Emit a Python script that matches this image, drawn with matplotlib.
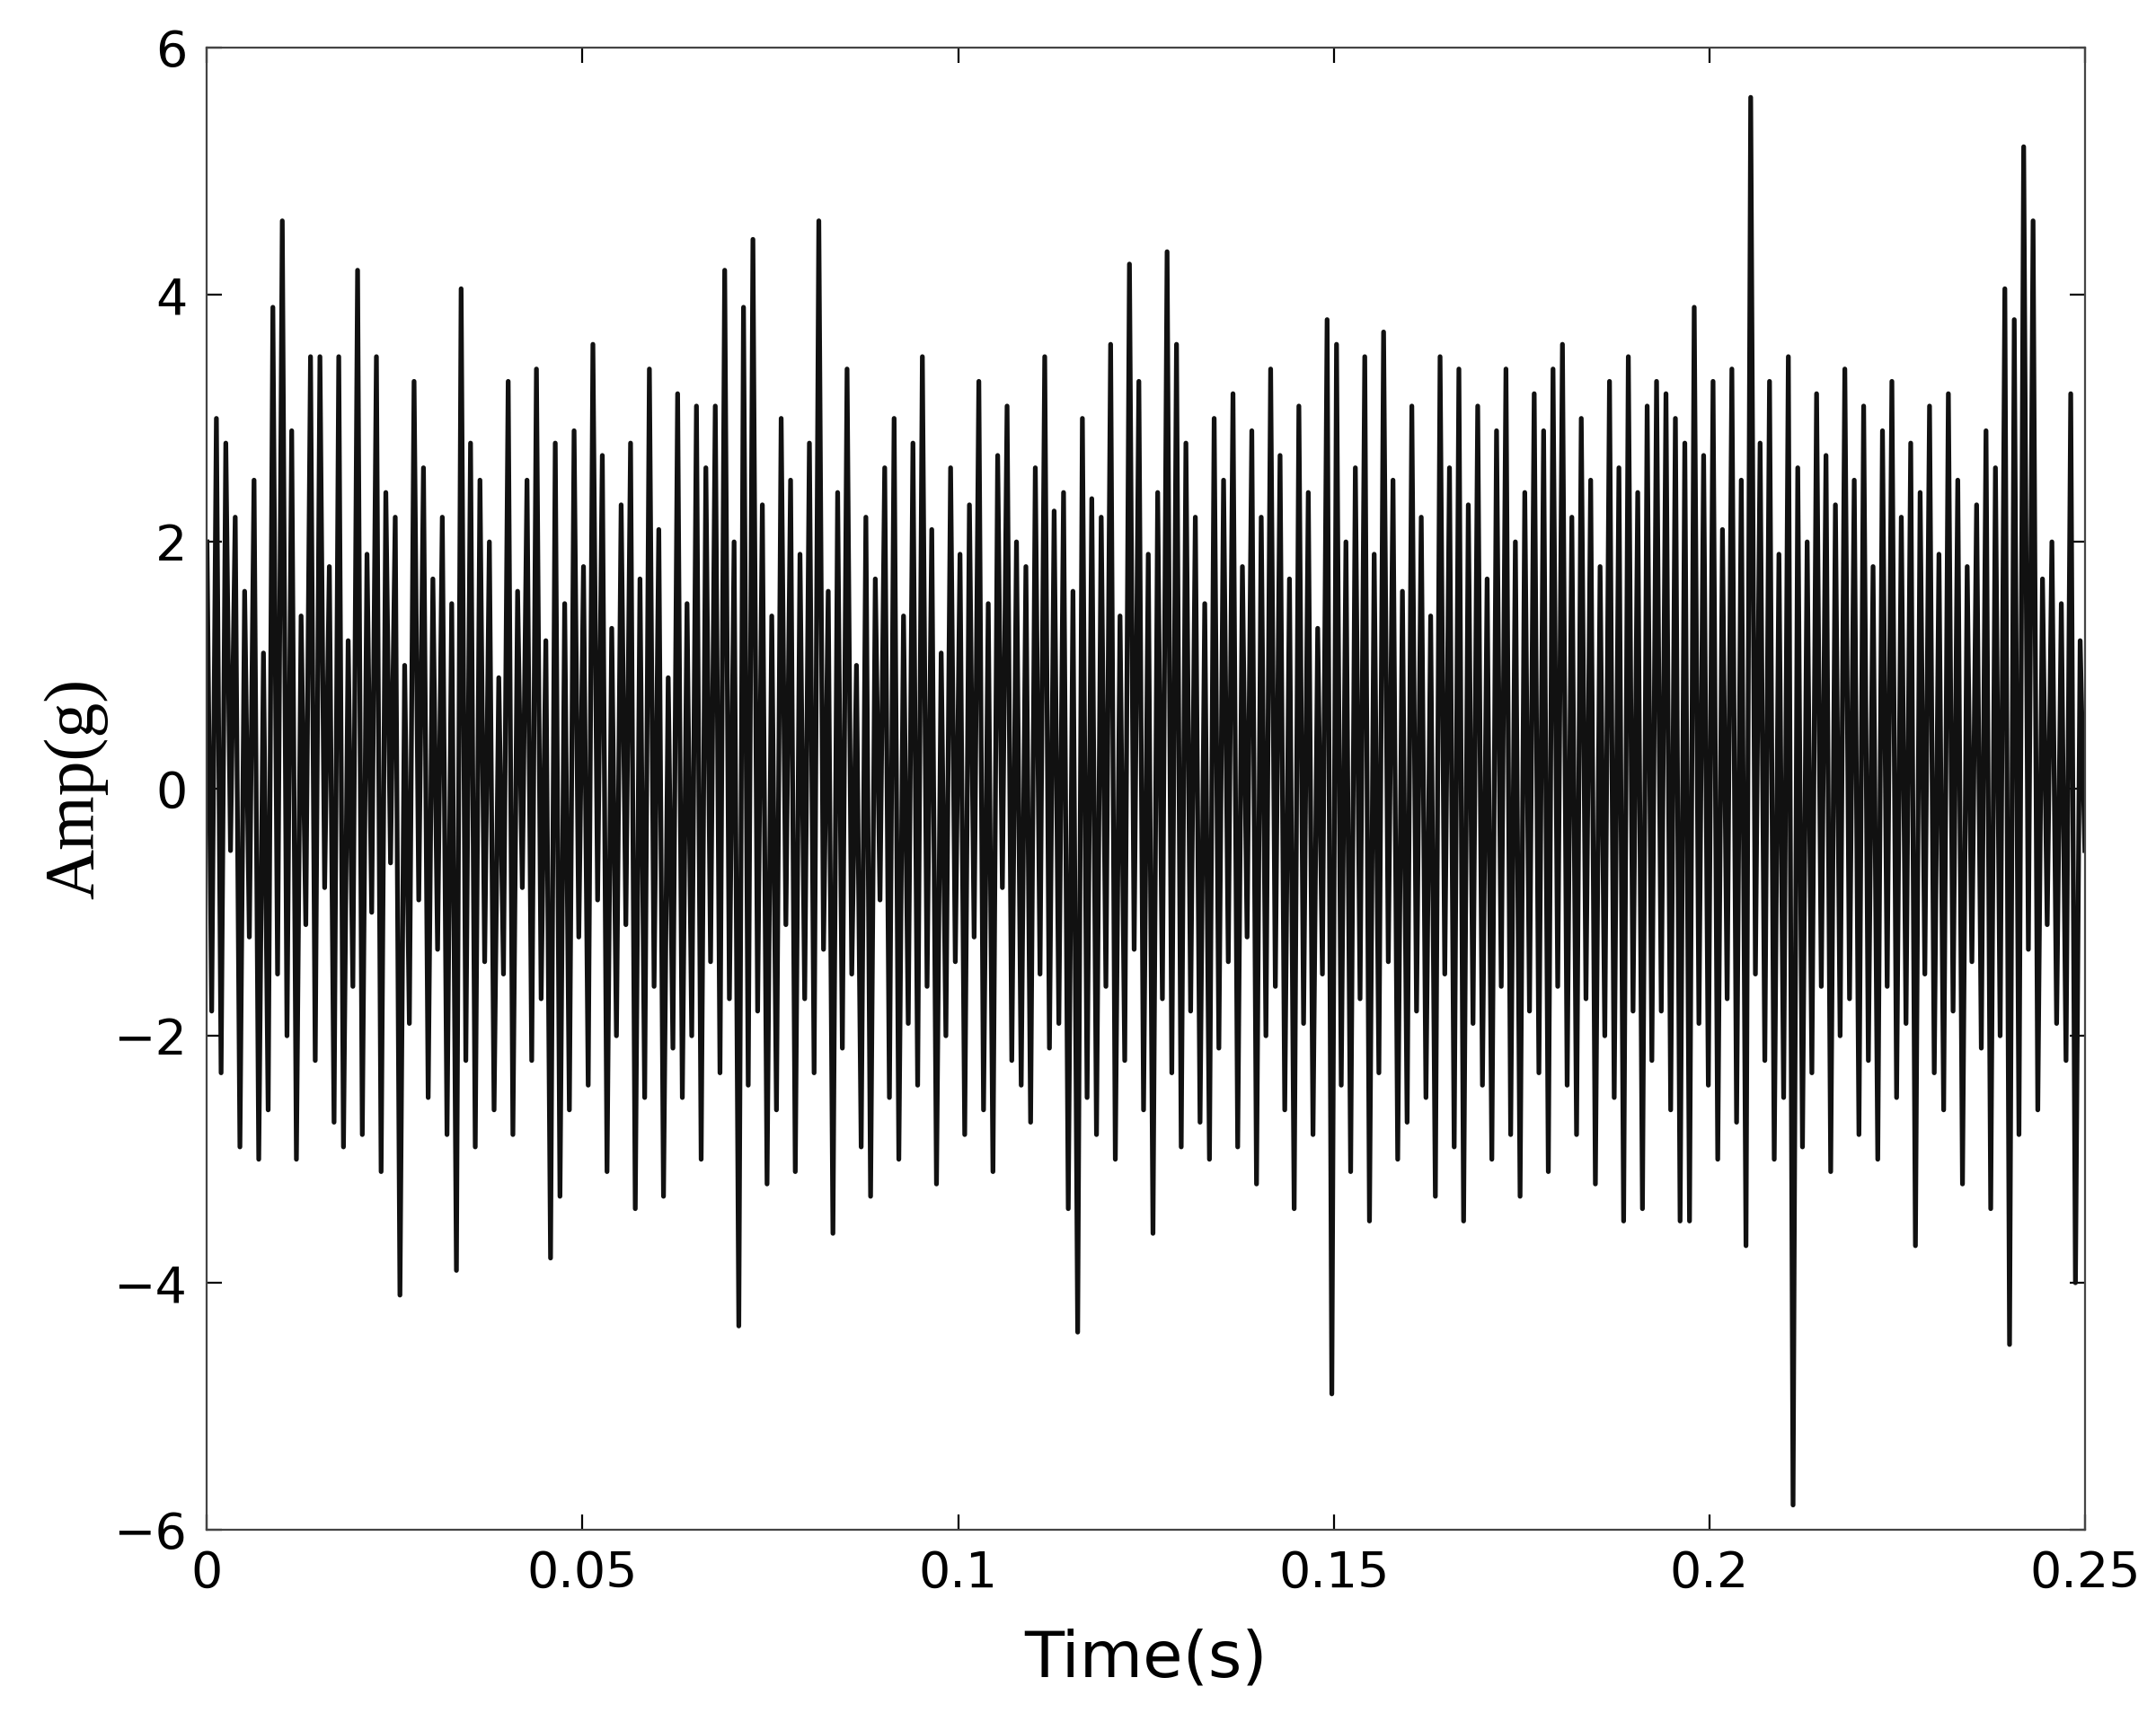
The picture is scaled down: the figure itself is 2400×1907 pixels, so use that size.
import numpy as np
import matplotlib.pyplot as plt

# amplitude samples (approx.), evenly spaced over 0..0.25 s
amp = [
    2.0, -1.8, 3.0, -2.3, 2.8, -0.5, 2.2, -2.9, 1.6, -1.2, 2.5, -3.0, 1.1, -2.6, 3.9, -1.5, 4.6, -2.0, 2.9, -3.0,
    1.4, -1.1, 3.5, -2.2, 3.5, -0.8, 1.8, -2.7, 3.5, -2.9, 1.2, -1.6, 4.2, -2.8, 1.9, -1.0, 3.5, -3.1, 2.4, -0.6,
    2.2, -4.1, 1.0, -1.9, 3.3, -0.9, 2.6, -2.5, 1.7, -1.3, 2.2, -2.8, 1.5, -3.9, 4.05, -2.2, 2.8, -2.9, 2.5, -1.4,
    2.0, -2.6, 0.9, -1.5, 3.3, -2.8, 1.6, -0.8, 2.5, -2.2, 3.4, -1.7, 1.2, -3.8, 2.8, -3.3, 1.5, -2.6, 2.9, -1.2,
    1.8, -2.4, 3.6, -0.9, 2.7, -3.1, 1.3, -2.0, 2.3, -1.1, 2.8, -3.4, 1.7, -2.5, 3.4, -1.6, 2.1, -3.3, 0.9, -2.1,
    3.2, -2.5, 1.5, -2.0, 3.1, -3.0, 2.6, -1.4, 3.1, -2.3, 4.2, -1.7, 2.0, -4.35, 3.9, -2.4, 4.45, -1.8, 2.3, -3.2,
    1.4, -2.6, 3.0, -1.1, 2.5, -3.1, 1.9, -1.7, 2.8, -2.3, 4.6, -1.3, 1.6, -3.6, 2.4, -2.1, 3.4, -1.5, 1.0, -2.9,
    2.2, -3.3, 1.7, -0.9, 2.6, -2.5, 3.0, -3.0, 1.4, -1.9, 2.8, -2.4, 3.5, -1.6, 2.1, -3.2, 1.1, -2.0, 2.6, -1.4,
    1.9, -2.8, 2.3, -1.2, 3.3, -2.6, 1.5, -3.1, 2.7, -0.8, 3.1, -2.2, 2.0, -2.4, 1.8, -2.7, 2.6, -1.5, 3.5, -2.1,
    2.25, -1.9, 2.4, -3.4, 1.6, -4.4, 3.0, -2.5, 2.35, -2.8, 2.2, -1.6, 3.6, -3.0, 1.4, -2.2, 4.25, -1.3, 3.3, -2.6,
    1.9, -3.6, 2.4, -1.7, 4.35, -2.3, 3.6, -2.9, 2.8, -1.8, 2.2, -2.7, 1.5, -3.0, 3.0, -2.1, 2.5, -1.4, 3.2, -2.9,
    1.8, -1.2, 2.9, -3.2, 2.2, -2.0, 3.4, -1.6, 2.7, -2.6, 1.7, -3.4, 3.1, -1.9, 2.4, -2.8, 1.3, -1.5, 3.8, -4.9,
    3.6, -2.4, 2.0, -3.1, 2.6, -1.7, 3.5, -3.5, 1.9, -2.3, 3.7, -1.4, 2.5, -3.0, 1.6, -2.7, 3.1, -1.8, 2.2, -2.5,
    1.4, -3.3, 3.5, -1.5, 2.6, -2.9, 3.4, -3.5, 2.3, -1.9, 3.1, -2.4, 1.7, -3.0, 2.9, -1.6, 3.4, -2.8, 2.0, -3.3,
    2.4, -1.8, 3.2, -2.3, 2.9, -3.1, 3.4, -1.6, 3.6, -2.4, 2.2, -2.8, 3.0, -1.7, 2.5, -3.2, 1.8, -2.0, 3.3, -2.5,
    2.6, -3.5, 3.5, -1.8, 2.4, -3.4, 3.1, -2.2, 3.3, -1.8, 3.2, -2.6, 3.0, -3.5, 2.8, -3.5, 3.9, -1.9, 2.7, -2.4,
    3.3, -3.0, 2.1, -1.7, 3.4, -2.7, 2.5, -3.7, 5.6, -1.5, 2.8, -2.2, 3.3, -3.0, 1.9, -2.5, 3.5, -5.8, 2.6, -2.9,
    2.0, -2.3, 3.2, -1.6, 2.7, -3.1, 2.3, -2.0, 3.4, -1.7, 2.5, -2.8, 3.1, -2.2, 1.8, -3.0, 2.9, -1.6, 3.3, -2.5,
    2.2, -1.9, 2.8, -3.7, 2.4, -1.5, 3.1, -2.3, 1.9, -2.6, 3.2, -1.8, 2.5, -3.2, 1.8, -1.4, 2.3, -2.1, 2.9, -3.4,
    2.6, -2.0, 4.05, -4.5, 3.8, -2.8, 5.2, -1.3, 4.6, -2.6, 1.7, -1.1, 2.0, -1.9, 1.5, -2.2, 3.2, -4.0, 1.2, -0.5,
]
t = np.linspace(0, 0.25, len(amp))

fig = plt.figure(figsize=(12, 9.535), dpi=200)
ax = fig.add_axes([0.096, 0.107, 0.871, 0.865])
ax.plot(t, amp, color="#111111", lw=1.9)
ax.set_xlim(0, 0.25)
ax.set_ylim(-6, 6)
ax.set_xticks([0, 0.05, 0.1, 0.15, 0.2, 0.25])
ax.set_xticklabels(["0", "0.05", "0.1", "0.15", "0.2", "0.25"])
ax.set_yticks([-6, -4, -2, 0, 2, 4, 6])
ax.set_yticklabels(["\u22126", "\u22124", "\u22122", "0", "2", "4", "6"])
ax.tick_params(direction="in", top=True, right=True, labelsize=20, length=6, pad=8)
for s in ax.spines.values():
    s.set_color("#444444")
ax.set_ylabel("Amp(g)", family="Liberation Serif", fontsize=28, labelpad=2)
ax.set_xlabel("Time(s)", fontsize=26, labelpad=12)
fig.savefig("out.png")
